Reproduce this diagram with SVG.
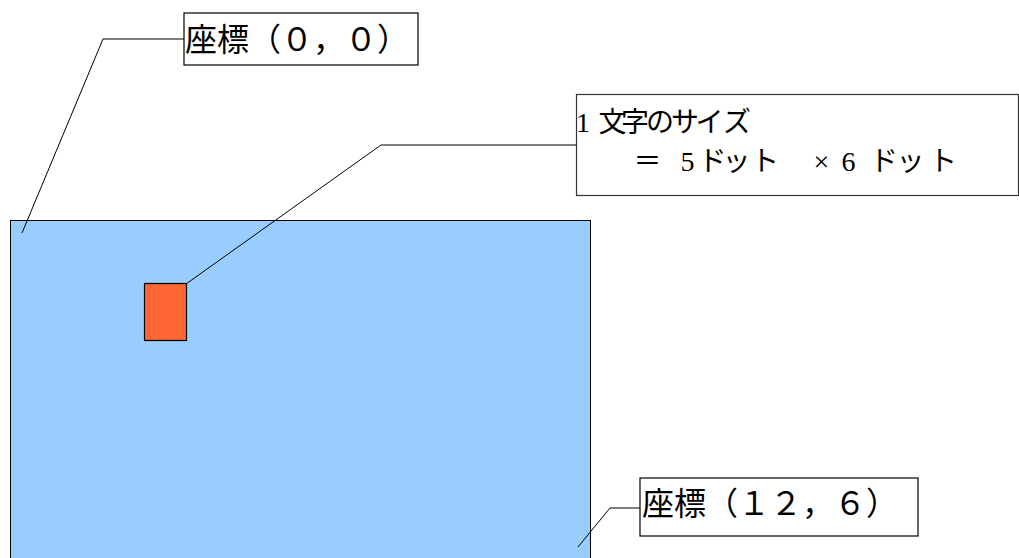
<svg xmlns="http://www.w3.org/2000/svg" width="1019" height="558" viewBox="0 0 1019 558">
<style>
.t{font-family:"Liberation Serif","Noto Sans CJK JP",serif;fill:#000}
.box{fill:#fff;stroke:#000;stroke-width:1.2}
.lead{fill:none;stroke:#000;stroke-width:1}
</style>
<rect width="1019" height="558" fill="#fff"/>
<g id="screen">
<rect x="10.5" y="220.5" width="580" height="345" fill="#99ccff" stroke="#000" stroke-width="1"/>
</g>
<g id="char">
<rect x="144.5" y="283.5" width="42" height="57" fill="#ff6633" stroke="#000" stroke-width="1.2"/>
</g>
<g id="connectors">
<polyline class="lead" points="184,39 103,39 22,233"/>
<polyline class="lead" points="576,145 381,145 186,284"/>
<polyline class="lead" points="640,508 610,508 578,547"/>
</g>
<g id="label00">
<rect class="box" x="184" y="13" width="234" height="52"/>
<text class="t" x="185" y="51" font-size="32">座標（０，０）</text>
</g>
<g id="labelsize">
<rect x="576.5" y="94.5" width="442" height="101" fill="#fff" stroke="#333" stroke-width="1.2"/>
<text class="t" font-size="28" y="132" x="576 590 598.5 621 646 671 695.5 723">1 文字のサイズ</text>
<text class="t" font-size="28" y="171" x="633.5 680.5 698.5 722.5 751 813.6 830 841.5 870 896.5 929">＝5ドット× 6ドット</text>
</g>
<g id="label126">
<rect class="box" x="640" y="478" width="278" height="58"/>
<text class="t" x="642" y="515" font-size="32">座標（１２，６）</text>
</g>
</svg>
